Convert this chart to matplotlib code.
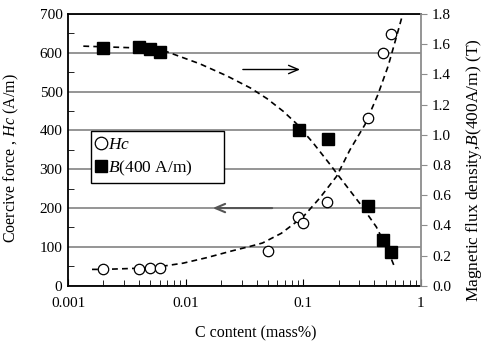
import matplotlib
matplotlib.use('Agg')
import matplotlib.pyplot as plt
from matplotlib.ticker import MultipleLocator
from matplotlib.lines import Line2D

plt.rcParams['font.family'] = ['Liberation Serif', 'DejaVu Serif']
plt.rcParams['mathtext.fontset'] = 'custom'
plt.rcParams['mathtext.rm'] = 'Liberation Serif'
plt.rcParams['mathtext.it'] = 'Liberation Serif:italic'

# measured points
c_hc = [0.002, 0.004, 0.005, 0.006, 0.05, 0.09, 0.1, 0.16, 0.355, 0.477, 0.56]
hc = [42, 44, 45, 46.5, 90, 176, 161, 216, 432, 600, 648]

c_b = [0.002, 0.004, 0.005, 0.006, 0.092, 0.161, 0.355, 0.472, 0.552]
b400 = [1.572, 1.58, 1.565, 1.547, 1.034, 0.972, 0.525, 0.303, 0.224]

# dashed trend curves
c_hc_fit = [0.0016, 0.002, 0.004, 0.006, 0.0095, 0.015, 0.025, 0.035, 0.045,
            0.065, 0.1, 0.138, 0.192, 0.249, 0.334, 0.43, 0.526, 0.621, 0.70]
hc_fit = [42, 42, 45, 49, 58, 72, 90, 101, 110,
          135, 178, 226, 282, 350, 415, 492, 566, 643, 700]

c_b_fit = [0.00135, 0.00398, 0.00692, 0.0132, 0.0224, 0.0355, 0.049, 0.0676,
           0.0871, 0.120, 0.170, 0.192, 0.302, 0.417, 0.513, 0.592]
b_fit = [1.587, 1.575, 1.55, 1.47, 1.39, 1.31, 1.24, 1.155,
         1.075, 0.95, 0.80, 0.745, 0.545, 0.39, 0.25, 0.13]

fig = plt.figure(figsize=(4.84, 3.44), dpi=100)
ax = fig.add_axes([0.1405, 0.1695, 0.7293, 0.7898])
ax2 = ax.twinx()

ax.set_xscale('log')
ax.set_xlim(0.001, 1)
ax.set_ylim(0, 700)
ax2.set_ylim(0, 1.8)

ax.yaxis.set_major_locator(MultipleLocator(100))
ax.yaxis.set_minor_locator(MultipleLocator(50))
ax2.yaxis.set_major_locator(MultipleLocator(0.2))
ax2.yaxis.set_major_formatter(matplotlib.ticker.FormatStrFormatter('%.1f'))
ax.xaxis.set_major_formatter(matplotlib.ticker.FuncFormatter(lambda v, p: '%g' % v))
ax.grid(axis='y', which='major', color='#8c8c8c', lw=1.3)
ax.set_axisbelow(True)

ax.tick_params(axis='y', which='both', direction='in', labelsize=11, pad=4)
ax.tick_params(axis='y', which='major', length=0)
ax.tick_params(axis='y', which='minor', length=4)
ax.tick_params(axis='x', which='major', direction='in', length=5, labelsize=11, pad=8)
ax.tick_params(axis='x', which='minor', direction='in', length=4)
ax.tick_params(right=False, top=False, which='both')
ax2.tick_params(axis='y', direction='out', length=4, color='#8c8c8c', labelsize=11, pad=4)

for s in ['left', 'bottom', 'top']:
    ax.spines[s].set_linewidth(1.3)
    ax.spines[s].set_color('black')
ax.spines['right'].set_visible(False)
for s in ['left', 'bottom', 'top']:
    ax2.spines[s].set_visible(False)
ax2.spines['right'].set_color('#8c8c8c')
ax2.spines['right'].set_linewidth(1.3)

ax.plot(c_hc_fit, hc_fit, color='black', lw=1.2, dashes=(3.5, 2.5), zorder=3)
ax.plot(c_hc, hc, 'o', ms=7.5, mfc='white', mec='black', mew=0.9, zorder=4)
ax2.plot(c_b_fit, b_fit, color='black', lw=1.2, dashes=(3.5, 2.5), zorder=3)
ax2.plot(c_b, b400, 's', ms=8.3, color='black', zorder=4)

ax2.annotate('', xy=(0.099, 557), xytext=(0.029, 557), xycoords=ax.transData,
             arrowprops=dict(arrowstyle='->,head_length=0.7,head_width=0.3', color='black', lw=1.0))
ax2.annotate('', xy=(0.0161, 200), xytext=(0.0574, 200), xycoords=ax.transData,
             arrowprops=dict(arrowstyle='->,head_length=0.7,head_width=0.3', color='#555555', lw=1.5))

handles = [Line2D([], [], ls='none', marker='o', ms=9, mfc='white', mec='black', mew=0.9),
           Line2D([], [], ls='none', marker='s', ms=9, color='black')]
leg = ax2.legend(handles, ['$Hc$', '$B$(400 A/m)'], loc='lower left',
                 bbox_to_anchor=(0.064, 0.377, 0.379, 0.204), mode='expand',
                 fontsize=12.5, frameon=True, fancybox=False, edgecolor='black',
                 handlelength=0.6, handletextpad=0.1, borderpad=0.3, labelspacing=0.35,
                 borderaxespad=0)
leg.get_frame().set_linewidth(1.0)
leg.get_frame().set_alpha(1)

ax.set_xlabel('C content (mass%)', fontsize=11.5)
ax.xaxis.set_label_coords(0.531, -0.145)
ax.set_ylabel('Coercive force , $Hc$ (A/m)', fontsize=11.5)
ax.yaxis.set_label_coords(-0.133, 0.47)
ax2.set_ylabel('Magnetic flux density,$B$(400A/m) (T)', fontsize=12.5)
ax2.yaxis.set_label_coords(1.122, 0.426)

fig.savefig('out.png', dpi=100)
